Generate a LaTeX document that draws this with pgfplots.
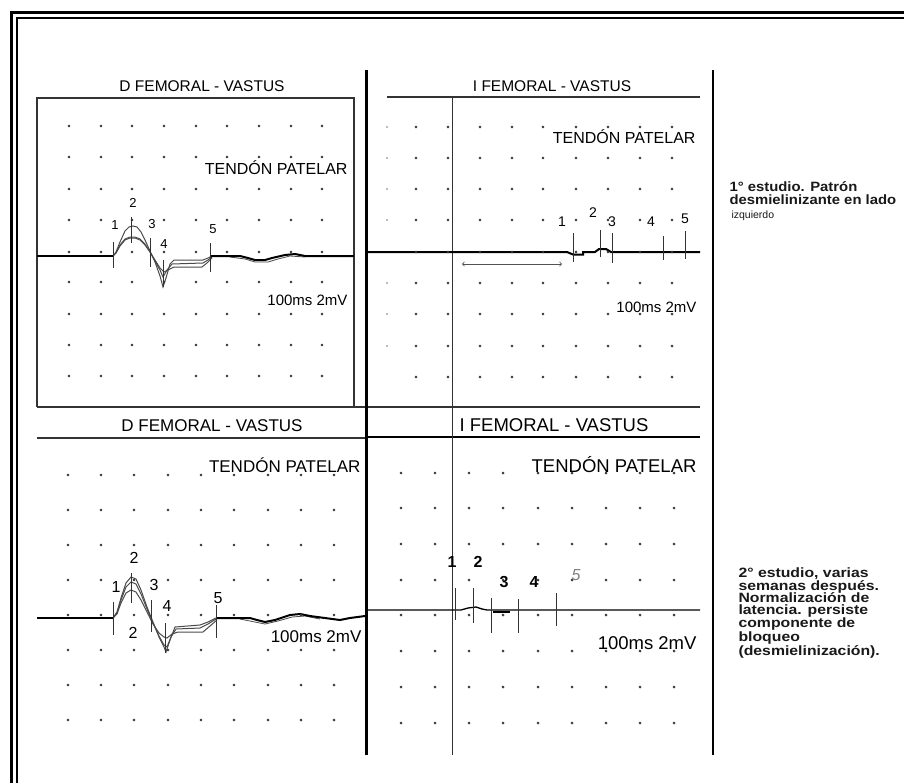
\documentclass[border=0pt]{standalone}
\usepackage{fontspec}
\setmainfont{Liberation Sans}
\newfontfamily\annfont[FakeStretch=1.1]{Liberation Sans}
\newfontfamily\annfontb[FakeStretch=1.17]{Liberation Sans}
\usepackage{pgfplots}
\pgfplotsset{compat=1.18}
\definecolor{ink}{HTML}{333333}
\definecolor{trace}{HTML}{4A4A4A}
\newcommand{\fs}[1]{\fontsize{#1}{#1}\selectfont}

\begin{document}
\begin{tikzpicture}
\begin{axis}[
    scale only axis, width=904pt, height=782pt,
    xmin=0, xmax=904, ymin=0, ymax=782, y dir=reverse,
    hide axis,
    every node/.style={inner sep=0pt, text=ink},
]
% background
\addplot[fill=white, draw=none] coordinates {(0,0) (904,0) (904,782) (0,782) (0,0)};

% outer double frame
\addplot[black, line width=3pt] coordinates {(11,900) (11,12) (1000,12)};
\addplot[black, line width=1.3pt] coordinates {(17,900) (17,18) (1000,18)};

% panel frames and dividers
\addplot[ink, line width=1.2pt] coordinates {(37,407) (37,98) (354,98) (354,407)};
\addplot[ink, line width=1.5pt] coordinates {(37,407) (700,407)};
\addplot[ink, line width=1.2pt] coordinates {(387,97) (700,97)};
\addplot[ink, line width=1.2pt] coordinates {(37,438) (365,438)};
\addplot[black, line width=1.5pt] coordinates {(367,437) (700,437)};
\addplot[black, line width=2.6pt] coordinates {(366.5,70) (366.5,755)};
\addplot[black, line width=2.6pt] coordinates {(713,70) (713,755)};
\addplot[ink, line width=1pt] coordinates {(452,97) (452,755)};

% grid dots, top left
\addplot[only marks, mark=*, mark size=1.2pt, ink] coordinates {
(69,126) (101,126) (132,126) (164,126) (196,126) (227,126) (259,126) (291,126) (322,126)
(69,157) (101,157) (132,157) (164,157) (196,157) (227,157) (259,157) (291,157) (322,157)
(69,189) (101,189) (132,189) (164,189) (196,189) (227,189) (259,189) (291,189) (322,189)
(69,220) (101,220) (132,220) (164,220) (196,220) (227,220) (259,220) (291,220) (322,220)
(69,252) (101,252) (132,252) (164,252) (196,252) (227,252) (259,252) (291,252) (322,252)
(69,282) (101,282) (132,282) (164,282) (196,282) (227,282) (259,282) (291,282) (322,282)
(69,314) (101,314) (132,314) (164,314) (196,314) (227,314) (259,314) (291,314) (322,314)
(69,345) (101,345) (132,345) (164,345) (196,345) (227,345) (259,345) (291,345) (322,345)
(69,376) (101,376) (132,376) (164,376) (196,376) (227,376) (259,376) (291,376) (322,376)
};
% grid dots, top right
\addplot[only marks, mark=*, mark size=1.2pt, ink] coordinates {
(416,127) (448,127) (480,127) (512,127) (543,127) (576,127) (608,127) (640,127) (672,127)
(416,158) (448,158) (480,158) (512,158) (543,158) (576,158) (608,158) (640,158) (672,158)
(416,189) (448,189) (480,189) (512,189) (543,189) (576,189) (608,189) (640,189) (672,189)
(416,220) (448,220) (480,220) (512,220) (543,220) (576,220) (608,220) (640,220) (672,220)
(416,252) (448,252) (480,252) (512,252) (543,252) (576,252) (608,252) (640,252) (672,252)
(416,283) (448,283) (480,283) (512,283) (543,283) (576,283) (608,283) (640,283) (672,283)
(416,314) (448,314) (480,314) (512,314) (543,314) (576,314) (608,314) (640,314) (672,314)
(416,346) (448,346) (480,346) (512,346) (543,346) (576,346) (608,346) (640,346) (672,346)
(416,377) (448,377) (480,377) (512,377) (543,377) (576,377) (608,377) (640,377) (672,377)
};
\addplot[only marks, mark=*, mark size=0.8pt, gray!60] coordinates {
(387,127) (387,158) (387,189) (387,220) (387,283) (387,314) (387,346)
};
% grid dots, bottom left
\addplot[only marks, mark=*, mark size=1.2pt, ink] coordinates {
(68,475) (101,475) (134,475) (168,475) (201,475) (234,475) (268,475) (301,475) (334,475)
(68,510) (101,510) (134,510) (168,510) (201,510) (234,510) (268,510) (301,510) (334,510)
(68,545) (101,545) (134,545) (168,545) (201,545) (234,545) (268,545) (301,545) (334,545)
(68,580) (101,580) (134,580) (168,580) (201,580) (234,580) (268,580) (301,580) (334,580)
(68,615) (101,615) (134,615) (168,615) (201,615) (234,615) (268,615) (301,615) (334,615)
(68,650) (101,650) (134,650) (168,650) (201,650) (234,650) (268,650) (301,650) (334,650)
(68,685) (101,685) (134,685) (168,685) (201,685) (234,685) (268,685) (301,685) (334,685)
(68,720) (101,720) (134,720) (168,720) (201,720) (234,720) (268,720) (301,720) (334,720)
};
% grid dots, bottom right
\addplot[only marks, mark=*, mark size=1.2pt, ink] coordinates {
(401,473) (435,473) (469,473) (503,473) (538,473) (572,473) (606,473) (640,473) (674,473)
(401,508) (435,508) (469,508) (503,508) (538,508) (572,508) (606,508) (640,508) (674,508)
(401,544) (435,544) (469,544) (503,544) (538,544) (572,544) (606,544) (640,544) (674,544)
(401,580) (435,580) (469,580) (503,580) (538,580) (572,580) (606,580) (640,580) (674,580)
(401,615) (435,615) (469,615) (503,615) (538,615) (572,615) (606,615) (640,615) (674,615)
(401,651) (435,651) (469,651) (503,651) (538,651) (572,651) (606,651) (640,651) (674,651)
(401,687) (435,687) (469,687) (503,687) (538,687) (572,687) (606,687) (640,687) (674,687)
(401,723) (435,723) (469,723) (503,723) (538,723) (572,723) (606,723) (640,723) (674,723)
};

% ---- top left traces
\addplot[trace, line width=1pt] coordinates {(113,256) (116,252) (120,242) (125,231) (129,227) (133,226) (137,227) (141,232) (145,240) (150,251) (155,262) (160,276) (163,287) (166,278) (170,264) (174,260) (203,260) (208,258) (212,256)};
\addplot[trace, line width=1pt] coordinates {(113,256) (116,253) (120,245) (125,239) (130,237) (135,237) (140,239) (145,244) (150,252) (155,261) (160,270) (163,277) (167,270) (172,264) (203,263) (208,260) (212,257)};
\addplot[trace, line width=1pt] coordinates {(113,256) (116,253) (120,246) (125,240) (130,238) (135,238) (140,240) (145,245) (150,252) (155,260) (160,268) (164,272) (168,270) (174,267) (202,267) (207,263) (212,258)};
\addplot[black, line width=2pt] coordinates {(37,256) (113,256)};
\addplot[trace, line width=0.8pt] coordinates {(230,257) (245,259) (255,262) (268,262) (278,259) (290,256) (305,257)};
\addplot[black, line width=2pt] coordinates {(210,256) (240,256) (248,258) (255,260) (265,260) (272,258) (285,255) (295,254) (305,256) (354,256)};
% markers
\addplot[ink, line width=1pt] coordinates {(113,242) (113,268)};
\addplot[ink, line width=1pt] coordinates {(131.7,217) (131.7,243)};
\addplot[ink, line width=1pt] coordinates {(150.7,238) (150.7,267)};
\addplot[ink, line width=1pt] coordinates {(163.3,260) (163.3,287)};
\addplot[ink, line width=1pt] coordinates {(210.7,243) (210.7,272)};

% ---- top right trace
\addplot[black, line width=2pt] coordinates {(365,252) (567,252) (573,254.5) (583,254.5) (583,252) (595,252) (599,249) (606,249) (611,252) (700,252)};
\addplot[<->, ink!85, line width=0.8pt] coordinates {(462,264) (562,264)};
\addplot[ink, line width=1pt] coordinates {(573.3,233) (573.3,262)};
\addplot[ink, line width=1pt] coordinates {(600,230) (600,257)};
\addplot[ink, line width=1pt] coordinates {(612.7,233) (612.7,263)};
\addplot[ink, line width=1pt] coordinates {(663.3,236) (663.3,260)};
\addplot[ink, line width=1pt] coordinates {(685,231) (685,259)};

% ---- bottom left traces
\addplot[trace, line width=1pt] coordinates {(113,618) (117,612) (121,598) (126,583) (131,577) (136,579) (141,590) (147,607) (153,622) (159,637) (164,647) (166,652) (170,640) (175,627) (200,625) (208,622) (216,618)};
\addplot[trace, line width=1pt] coordinates {(113,618) (117,613) (121,600) (126,587) (131,582) (136,584) (141,594) (147,609) (153,623) (159,636) (164,645) (167,647) (171,637) (176,629) (200,628) (208,624) (216,619)};
\addplot[trace, line width=1pt] coordinates {(113,618) (117,614) (121,603) (126,593) (131,590) (136,592) (141,600) (147,612) (153,624) (159,633) (164,637) (167,638) (172,634) (178,632) (203,632) (210,626) (217,620)};
\addplot[black, line width=2pt] coordinates {(37,618) (113,618)};
\addplot[trace, line width=0.8pt] coordinates {(240,619) (255,622) (265,624) (278,621) (292,617) (305,616) (320,619)};
\addplot[black, line width=2pt] coordinates {(216,618) (250,618) (257,620) (265,622) (275,620) (290,615) (300,614) (310,616) (325,618) (340,620) (350,618) (365,616)};
\addplot[ink, line width=1pt] coordinates {(113.3,602) (113.3,635)};
\addplot[ink, line width=1pt] coordinates {(131.7,573) (131.7,603)};
\addplot[ink, line width=1pt] coordinates {(151.7,600) (151.7,632)};
\addplot[ink, line width=1pt] coordinates {(165,623) (165,653)};
\addplot[ink, line width=1pt] coordinates {(216,605) (216,638)};

% ---- bottom right trace
\addplot[black, line width=1.3pt] coordinates {(367,610) (461,610) (468,608) (476,607) (482,609) (487,610) (700,610)};
\addplot[black, line width=1.3pt] coordinates {(493,612) (510,612)};
\addplot[ink, line width=1pt] coordinates {(455,588) (455,620)};
\addplot[ink, line width=1pt] coordinates {(473.7,588) (473.7,623)};
\addplot[ink, line width=1pt] coordinates {(491,598) (491,633)};
\addplot[ink, line width=1pt] coordinates {(518.3,599) (518.3,633)};
\addplot[ink, line width=1pt] coordinates {(556,593) (556,626)};

% ---- texts, top left
\node[font=\fs{15.5}] at (axis cs:202,86) {D FEMORAL - VASTUS};
\node[font=\fs{16}, anchor=east] at (axis cs:351,168) {TENDÓN PATELAR};
\node[font=\fs{15}, anchor=east] at (axis cs:351,300) {100ms 2mV};
\node[font=\fs{13}] at (axis cs:115,225) {1};
\node[font=\fs{13}] at (axis cs:133,203) {2};
\node[font=\fs{13}] at (axis cs:152,224) {3};
\node[font=\fs{13}] at (axis cs:164,244) {4};
\node[font=\fs{13}] at (axis cs:213,229) {5};
% top right
\node[font=\fs{15.5}] at (axis cs:552,86) {I FEMORAL - VASTUS};
\node[font=\fs{16}, anchor=east] at (axis cs:699,137) {TENDÓN PATELAR};
\node[font=\fs{15}, anchor=east] at (axis cs:700,307) {100ms 2mV};
\node[font=\fs{14}] at (axis cs:562,222) {1};
\node[font=\fs{14}] at (axis cs:593,213) {2};
\node[font=\fs{14}] at (axis cs:612,222) {3};
\node[font=\fs{14}] at (axis cs:651,222) {4};
\node[font=\fs{14}] at (axis cs:685,219) {5};
% bottom left
\node[font=\fs{17}] at (axis cs:212,426) {D FEMORAL - VASTUS};
\node[font=\fs{17}, anchor=east] at (axis cs:364,465) {TENDÓN PATELAR};
\node[font=\fs{17}, anchor=east] at (axis cs:365,637) {100ms 2mV};
\node[font=\fs{16}] at (axis cs:116,587) {1};
\node[font=\fs{16}] at (axis cs:134,558) {2};
\node[font=\fs{16}] at (axis cs:154,585) {3};
\node[font=\fs{16}] at (axis cs:167,606) {4};
\node[font=\fs{16}] at (axis cs:218,598) {5};
\node[font=\fs{16}] at (axis cs:133,633) {2};
% bottom right
\node[font=\fs{18.5}, text=black] at (axis cs:554,425) {I FEMORAL - VASTUS};
\node[font=\fs{18.5}, text=black, anchor=east] at (axis cs:700,465) {TENDÓN PATELAR};
\node[font=\fs{18.5}, text=black, anchor=east] at (axis cs:700,643) {100ms 2mV};
\node[font=\fs{16}\bfseries, text=black] at (axis cs:452,562) {1};
\node[font=\fs{16}\bfseries, text=black] at (axis cs:478,562) {2};
\node[font=\fs{16}\bfseries, text=black] at (axis cs:504,582) {3};
\node[font=\fs{16}\bfseries, text=black] at (axis cs:534,582) {4};
\node[font=\fs{16}\itshape, text=gray] at (axis cs:576,575) {5};

% right annotations (base anchor = baseline of the last line)
\node[anchor=base west, align=left, text=black!90,
      font=\annfont\fontsize{13.5}{13}\selectfont\bfseries] at (axis cs:726,204.5)
  {1° estudio. Patrón\\desmielinizante en lado};
\node[anchor=base west, text=black!90, font=\fontsize{10.5}{10.5}\selectfont]
  at (axis cs:728,218) {izquierdo};

\node[anchor=base west, align=left, text=black!90,
      font=\annfontb\fontsize{13.5}{12.5}\selectfont\bfseries] at (axis cs:735,590)
  {2° estudio, varias\\semanas después.};
\node[anchor=base west, align=left, text=black!90,
      font=\annfontb\fontsize{13.5}{12}\selectfont\bfseries] at (axis cs:735,655)
  {Normalización de\\latencia. persiste\\componente de\\bloqueo\\(desmielinización).};
\end{axis}
\end{tikzpicture}
\end{document}
